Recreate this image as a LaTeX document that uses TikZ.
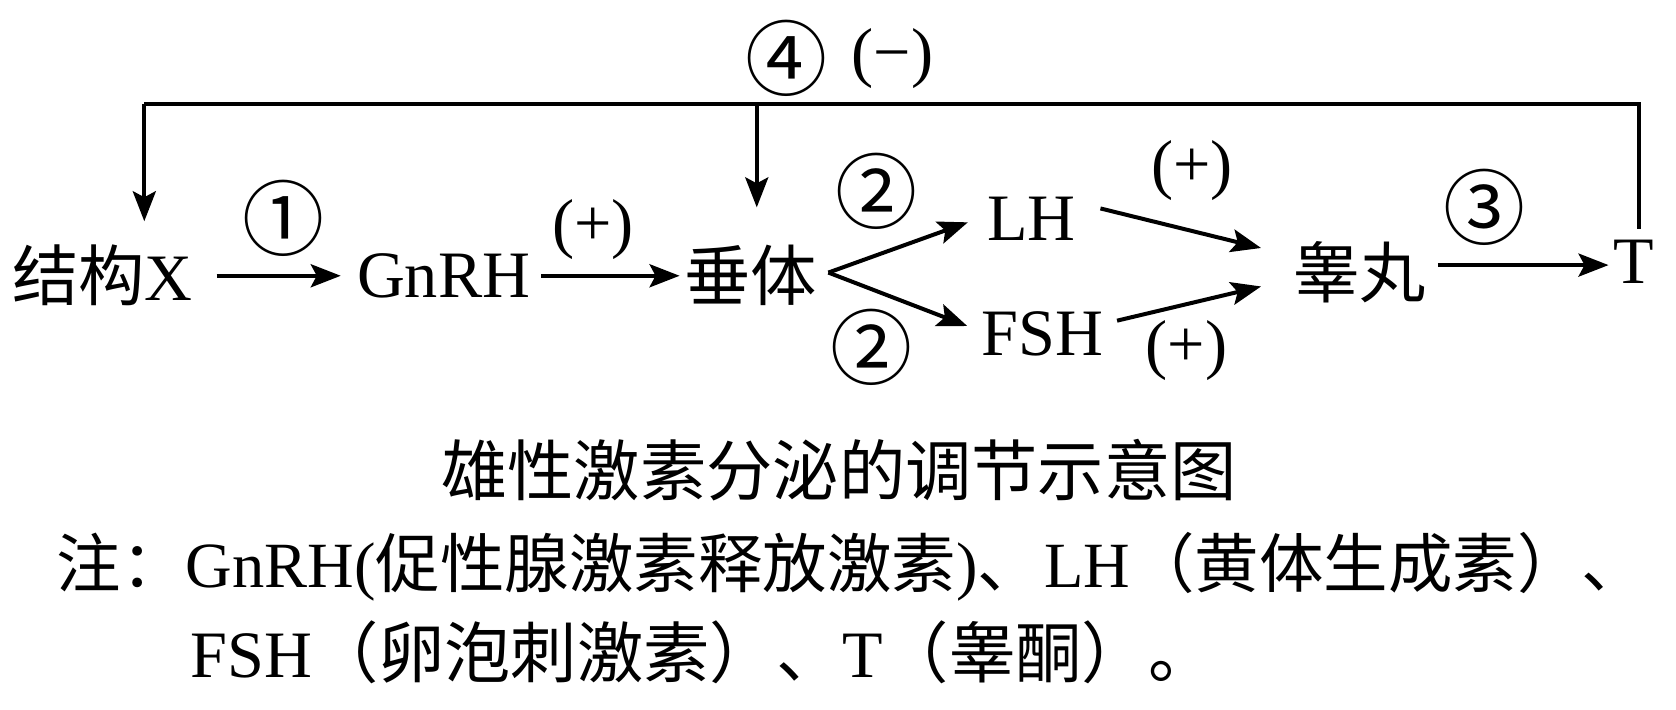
\documentclass[tikz,border=0pt]{standalone}
\usepackage{fontspec}
\setmainfont{Liberation Serif}
\newfontfamily\cjk{Noto Sans CJK SC}
\usetikzlibrary{arrows.meta,calc}
\newcommand{\circnum}[1]{{\fontsize{82}{84}\selectfont\cjk #1}}
\begin{document}
\begin{tikzpicture}[x=1.0689pt,y=-1.0689pt,
  font=\fontsize{66.3}{72}\selectfont,
  lbl/.style={inner sep=0pt, anchor=center},
  tag/.style={inner sep=0pt, anchor=center},
  arr/.style={line width=4pt, -{Stealth[length=30pt,width=23pt,inset=6pt]}},
  ln/.style={line width=4pt}]
\useasboundingbox (0,0) rectangle (1568,664.2);
% main nodes
\node[lbl] (X) at (96,258) {{\cjk 结构}X};
\node[lbl] (G) at (415,258) {GnRH};
\node[lbl] (C) at (702,258) {\cjk 垂体};
\node[lbl] (LH) at (965,205) {LH};
\node[lbl] (F) at (975,312) {FSH};
\node[lbl] (Te) at (1272,255) {\cjk 睾丸};
\node[lbl] (T) at (1528,245) {T};
% feedback coordinates
\coordinate (tl) at (135,97);
\coordinate (tm) at (708,97);
\coordinate (tr) at (1533,97);
\coordinate (xtip) at (135,207);
\coordinate (ctip) at (708,194);
\coordinate (tbot) at (1533,214);
\coordinate (br) at (775,255);
% connectors
\draw[arr] ($(X.east)+(22,0)$) -- ($(G.west)+(-15,0)$);
\draw[arr] ($(G.east)+(10,0)$) -- ($(C.west)+(-4,0)$);
\draw[arr] (br) -- ($(LH.west)+(-18,3)$);
\draw[arr] (br) -- ($(F.west)+(-13,-7)$);
\draw[arr] ($(LH.east)+(23,-10)$) -- ($(Te.west)+(-30,-23)$);
\draw[arr] ($(F.east)+(13,-12)$) -- ($(Te.west)+(-30,13)$);
\draw[arr] ($(Te.east)+(11,-7)$) -- ($(T.west)+(-4,3)$);
\draw[ln] (tbot) -- (tr) -- (tl);
\draw[arr] (tl) -- (xtip);
\draw[arr] (tm) -- (ctip);
% labels
\node[tag] (l1) at (265,204) {\circnum{①}};
\node[tag] (p1) at (555,215) {(+)};
\node[tag] (l2a) at (820,179) {\circnum{②}};
\node[tag] (l2b) at (815,325) {\circnum{②}};
\node[tag] (p2) at (1115,160) {(+)};
\node[tag] (p3) at (1110,328) {(+)};
\node[tag] (l3) at (1389,194) {\circnum{③}};
\node[tag] (l4) at (736,55) {\circnum{④}};
\node[tag] (m4) at (835,55) {(−)};
% caption and note
\node[lbl] (cap) at (785,440) {\cjk 雄性激素分泌的调节示意图};
\node[inner sep=0pt, anchor=west, font=\fontsize{64.5}{72}\selectfont] (n1) at (53,530) {{\cjk 注：}GnRH({\cjk 促性腺激素释放激素}){\cjk 、}\hspace{2pt}LH{\cjk （黄体生成素）\makebox[0.45em][l]{、}}};
\node[inner sep=0pt, anchor=west] (n2) at (178,610) {FSH{\cjk （卵泡刺激素）、}T{\cjk （睾酮）。}};
\end{tikzpicture}
\end{document}
